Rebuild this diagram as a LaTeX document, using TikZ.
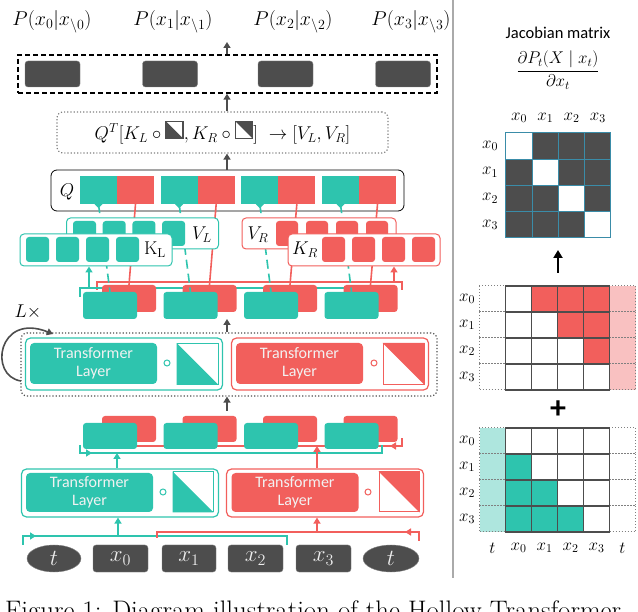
\RequirePackage{fix-cm}
\documentclass[tikz,border=0pt]{standalone}
\usepackage{fontspec}
\newfontfamily\calibri{Carlito}
\usetikzlibrary{arrows.meta,shapes.geometric}
\definecolor{hteal}{HTML}{2EC4AE}
\definecolor{hred}{HTML}{F25F5C}
\definecolor{hdark}{HTML}{4D4D4D}
\definecolor{hltteal}{HTML}{AEE6DE}
\definecolor{hltred}{HTML}{F9C1C1}
\definecolor{hgrid}{HTML}{3A8CA8}
\definecolor{hsep}{HTML}{AAAAAA}
\newcommand{\pfont}{\fontsize{20}{24}\selectfont}
\newcommand{\mfont}{\fontsize{18.5}{22}\selectfont}
\newcommand{\tfont}{\fontsize{23}{26}\selectfont}
\newcommand{\gfont}{\fontsize{17}{19}\selectfont}
\newcommand{\masklo}{\tikz[baseline=-1pt,sharp corners]{\fill[hdark] (0pt,0pt) -- (0pt,17pt) -- (17pt,0pt) -- cycle; \draw[hdark,line width=1.4pt] (0pt,0pt) rectangle (17pt,17pt);}}
\newcommand{\maskup}{\tikz[baseline=-1pt,sharp corners]{\fill[hdark] (0pt,17pt) -- (17pt,17pt) -- (17pt,0pt) -- cycle; \draw[hdark,line width=1.4pt] (0pt,0pt) rectangle (17pt,17pt);}}
\begin{document}
\begin{tikzpicture}[x=1pt,y=-1pt,
    tok/.style={rounded corners=3pt,fill=hdark,draw=gray,inner sep=0pt,minimum height=27pt,text=white!93!black,font=\tfont},
    tcell/.style={rounded corners=3pt,fill=hteal,inner sep=0pt},
    rcell/.style={rounded corners=3pt,fill=hred,inner sep=0pt},
    arr/.style={draw=hdark,line width=1.6pt,-{Triangle[length=6pt,width=7pt]}},
    tln/.style={draw=hteal,line width=1.6pt},
    rln/.style={draw=hred,line width=1.6pt},
    tarr/.style={tln,-{Triangle[length=6pt,width=7pt]}},
    rarr/.style={rln,-{Triangle[length=6pt,width=7pt]}},
    layer/.style={rounded corners=4pt,inner sep=0pt,minimum width=127pt,text=white!95!black,align=center,font=\calibri\fontsize{16}{18}\selectfont},
    grp/.style={rounded corners=5pt,line width=1.2pt,inner sep=0pt,minimum width=197pt},
    kv/.style={fill=white,line width=1pt,rounded corners=4pt,inner sep=0pt,minimum width=152pt},
    gcell/.style={minimum size=26pt,inner sep=0pt}]
  \useasboundingbox (0,0) rectangle (638,612);
  \clip (0,0) rectangle (638,612);

  \foreach \i/\x in {0/52,1/173,2/293,3/411}
    \node[font=\pfont] (p\i) at (\x,22) {$P(x_{\i}|x_{\setminus \i})$};
  \node[draw=black,line width=1.5pt,dash pattern=on 5pt off 3pt,minimum width=419pt,minimum height=38pt,inner sep=0pt] (outs) at (227.5,74) {};
  \foreach \i/\x in {0/52.5,1/170,2/285.5,3/403}
    \node[tok,minimum width=55pt,minimum height=26pt] (o\i) at (\x,74) {};
  \coordinate (ptop) at (227,42);
  \draw[arr] (outs.north -| ptop) -- (ptop);

  \node[draw=gray,dotted,line width=1.2pt,rounded corners=6pt,minimum width=331pt,minimum height=41pt,inner sep=0pt,font=\mfont] (attn) at (222.5,132.5) {$Q^T[K_L\circ\masklo, K_R\circ\maskup]\ \rightarrow[V_L,V_R]$};
  \draw[arr] (attn.north -| ptop) -- (outs.south -| ptop);

  \node[draw=black,line width=0.8pt,rounded corners=6pt,minimum width=353pt,minimum height=41pt,inner sep=0pt] (qbox) at (227.5,190.5) {};
  \node[font=\mfont] (qlab) at (67,192) {$Q$};
  \draw[arr] (qbox.north -| ptop) -- (attn.south -| ptop);
  \foreach \i in {0,...,3} {
    \pgfmathsetmacro{\qx}{98.5+80.67*\i}
    \node[fill=hteal,minimum width=37pt,minimum height=28pt,inner sep=0pt] (qt\i) at (\qx,190) {};
    \node[fill=hred,minimum width=37pt,minimum height=28pt,inner sep=0pt] (qr\i) at (\qx+37,190) {};
    \fill[hteal] (qt\i.south) ++(-4,0) -- ++(8,0) -- ++(-4,4) -- cycle;
  }

  \coordinate (ubt0) at (80,297);
  \coordinate (ubt1) at (383,297);
  \coordinate (ubr0) at (97,290);
  \coordinate (ubr1) at (402,290);
  \draw[rln] (ubr0) -- ++(0,-8) -| (ubr1);
  \draw[tln] (ubt0) -- ++(0,-9) -| (ubt1);
  \coordinate (lbt0) at (80,445);
  \coordinate (lbt1) at (382,445);
  \coordinate (lbr0) at (97,438);
  \coordinate (lbr1) at (402,438);
  \draw[rln] (lbr0) -- ++(0,8) -| (lbr1);
  \draw[rarr] (lbr1) ++(0,8) -- ++(-12,0);
  \draw[tln] (lbt0) -- ++(0,8) -| (lbt1);
  \draw[tarr] (lbt0) ++(0,8) -- ++(12,0);

  \foreach \i in {0,...,3} {
    \pgfmathsetmacro{\ux}{129+80.5*\i}
    \node[rcell,minimum width=54pt,minimum height=27pt] (ur\i) at (\ux,298.5) {};
    \node[tcell,minimum width=54pt,minimum height=27pt] (ut\i) at (\ux-19,305.5) {};
    \node[rcell,minimum width=54pt,minimum height=26pt] (lr\i) at (\ux,429) {};
    \node[tcell,minimum width=54pt,minimum height=26pt] (lt\i) at (\ux-19,436) {};
  }
  \foreach \i in {0,...,3} {
    \draw[tln,dash pattern=on 9pt off 5pt] (qt\i.south) -- (ut\i.north);
    \draw[rln] (qr\i.south) -- (ur\i.north);
  }

  \node[kv,draw=hteal,minimum height=31pt] (vl) at (142.5,233.5) {};
  \foreach \i in {0,...,3}
    \node[tcell,minimum width=23pt,minimum height=25pt] (vl\i) at (84.5+29.7*\i,233.5) {};
  \node[font=\mfont] (vllab) at (202,235) {$V_L$};
  \node[kv,draw=hred,minimum width=154pt,minimum height=31pt] (vr) at (319,233.5) {};
  \foreach \i in {0,...,3}
    \node[rcell,minimum width=22pt,minimum height=25pt] (vr\i) at (287+30*\i,233.5) {};
  \node[font=\mfont] (vrlab) at (258,235) {$V_R$};
  \node[kv,draw=hteal,minimum height=32pt] (kl) at (96,250) {};
  \foreach \i in {0,...,3}
    \node[tcell,minimum width=23pt,minimum height=25pt] (kl\i) at (37.5+30*\i,249.5) {};
  \node[font=\mfont] (kllab) at (155,250) {$\mathrm{K}_\mathrm{L}$};
  \node[kv,draw=hred,minimum height=32pt] (kr) at (364,250) {};
  \foreach \i in {0,...,3}
    \node[rcell,minimum width=23pt,minimum height=25pt] (kr\i) at (333.5+30*\i,249.5) {};
  \node[font=\mfont] (krlab) at (305,250) {$K_R$};
  \coordinate (ukt) at (89,288);
  \coordinate (ukr) at (394,282);
  \draw[tarr] (ukt) -- (kl.south -| ukt);
  \draw[rarr] (ukr) -- (kr.south -| ukr);

  \node[draw=hdark,dotted,line width=1.2pt,rounded corners=6pt,minimum width=416pt,minimum height=63pt,inner sep=0pt] (loop) at (229,364.5) {};
  \coordinate (uarr) at (227,319);
  \coordinate (larr) at (227,411);
  \draw[arr] (loop.north -| uarr) -- (uarr);
  \draw[arr] (larr) -- (loop.south -| larr);
  \coordinate (lpa) at (21,381);
  \coordinate (lpb) at (53,334);
  \draw[arr] (lpa) .. controls (-12,376) and (-2,312) .. (lpb);
  \node[font=\mfont] (lx) at (28,312) {$L\times$};

  \node[grp,draw=hteal,minimum height=52pt] (tg2) at (124,364) {};
  \node[layer,fill=hteal,minimum height=41pt] (tl2) at (93.5,363.5) {Transformer\\Layer};
  \node[circle,draw=hteal,line width=1pt,minimum size=6pt,inner sep=0pt] (ct2) at (167,363) {};
  \node[draw=hteal,line width=1pt,minimum size=41pt,inner sep=0pt] (mt2) at (197.5,364) {};
  \fill[hteal] (mt2.north west) -- (mt2.south east) -- (mt2.south west) -- cycle;
  \node[grp,draw=hred,minimum height=52pt] (rg2) at (330,364) {};
  \node[layer,fill=hred,minimum height=41pt] (tr2) at (299.5,363.5) {Transformer\\Layer};
  \node[circle,draw=hred,line width=1pt,minimum size=6pt,inner sep=0pt] (cr2) at (374,363) {};
  \node[draw=hred,line width=1pt,minimum size=41pt,inner sep=0pt] (mr2) at (403.5,364) {};
  \fill[hred] (mr2.north west) -- (mr2.north east) -- (mr2.south east) -- cycle;

  \node[grp,draw=hteal,minimum height=48pt] (tg1) at (120,493) {};
  \node[layer,fill=hteal,minimum height=39pt] (tl1) at (89.5,492.5) {Transformer\\Layer};
  \node[circle,draw=hteal,line width=1pt,minimum size=6pt,inner sep=0pt] (ct1) at (163,492) {};
  \node[draw=hteal,line width=1pt,minimum size=40pt,inner sep=0pt] (mt1) at (193,492) {};
  \fill[hteal] (mt1.north west) -- (mt1.south east) -- (mt1.south west) -- cycle;
  \node[grp,draw=hred,minimum height=48pt] (rg1) at (325,493) {};
  \node[layer,fill=hred,minimum height=39pt] (tr1) at (295,492.5) {Transformer\\Layer};
  \node[circle,draw=hred,line width=1pt,minimum size=6pt,inner sep=0pt] (cr1) at (368,492) {};
  \node[draw=hred,line width=1pt,minimum size=40pt,inner sep=0pt] (mr1) at (399,492) {};
  \fill[hred] (mr1.north west) -- (mr1.north east) -- (mr1.south east) -- cycle;
  \coordinate (lat) at (117,453);
  \coordinate (lar) at (317,446);
  \draw[tarr] (tg1.north -| lat) -- (lat);
  \draw[rarr] (rg1.north -| lar) -- (lar);

  \coordinate (bbt0) at (23,545);
  \coordinate (bbt1) at (287,545);
  \coordinate (bbr0) at (157,538);
  \coordinate (bbr1) at (419,541);
  \draw[tln] (bbt0) -- ++(0,-9) -| (bbt1);
  \draw[tarr] (bbt0) ++(0,-9) -- ++(13,0);
  \draw[rln] (bbr0) -- ++(0,-6) -| (bbr1);
  \draw[rarr] (bbr1) ++(0,-9) -- ++(-14,0);
  \coordinate (bat) at (118,536);
  \coordinate (bar) at (317,532);
  \draw[tarr] (bat) -- (tg1.south -| bat);
  \draw[rarr] (bar) -- (rg1.south -| bar);

  \node[tok,ellipse,minimum width=54pt] (tin0) at (54,558.5) {$t$};
  \node[tok,minimum width=55pt] (xin0) at (120.5,558.5) {$x_0$};
  \node[tok,minimum width=54pt] (xin1) at (189,558.5) {$x_1$};
  \node[tok,minimum width=55pt] (xin2) at (255.5,558.5) {$x_2$};
  \node[tok,minimum width=55pt] (xin3) at (323.5,558.5) {$x_3$};
  \node[tok,ellipse,minimum width=56pt] (tin1) at (391,558.5) {$t$};

  \draw[hsep,line width=1.5pt] (453,0) -- (453,578);
  \node[font=\calibri\fontsize{16.5}{18}\selectfont] (jtitle) at (558,33) {Jacobian matrix};
  \node[font=\gfont] (jfrac) at (558,70) {$\displaystyle\frac{\partial P_t(X\mid x_t)}{\partial x_t}$};
  \foreach \i in {0,...,3} \foreach \j in {0,...,3} {
    \ifnum\i=\j \def\jc{white}\else\def\jc{hdark}\fi
    \node[gcell,draw=hgrid,line width=1pt,fill=\jc,minimum size=26.25pt] (j\i\j) at (519+26.25*\j,146+26.25*\i) {};
  }
  \foreach \i in {0,...,3} {
    \node[font=\gfont] (jcl\i) at (519+26.25*\i,118) {$x_{\i}$};
    \node[font=\gfont] (jrl\i) at (490,146+26.25*\i) {$x_{\i}$};
  }
  \coordinate (jarr0) at (558,273);
  \coordinate (jarr1) at (558,250);
  \draw[-{Triangle[length=8pt,width=9pt]},line width=2.2pt] (jarr0) -- (jarr1);

  \foreach \i in {0,...,3} \foreach \j in {0,5} {
    \def\uc{white}\def\lc{white}
    \ifnum\j=5 \def\uc{hltred}\else\def\lc{hltteal}\fi
    \node[gcell,draw=gray,dotted,line width=1pt,fill=\uc] (u\i\j) at (492.5+26*\j,299+26*\i) {};
    \node[gcell,draw=gray,dotted,line width=1pt,fill=\lc] (l\i\j) at (492.5+26*\j,441+26*\i) {};
  }
  \foreach \i in {0,...,3} \foreach \j in {1,...,4} {
    \pgfmathtruncatemacro{\k}{\j-1}
    \def\uc{white}\def\lc{white}
    \ifnum\k>\i \def\uc{hred}\fi
    \ifnum\k<\i \def\lc{hteal}\fi
    \node[gcell,draw=hdark,line width=1.2pt,fill=\uc] (u\i\j) at (492.5+26*\j,299+26*\i) {};
    \node[gcell,draw=hdark,line width=1.2pt,fill=\lc] (l\i\j) at (492.5+26*\j,441+26*\i) {};
  }
  \foreach \i in {0,...,3} {
    \node[font=\gfont] (url\i) at (467,299+26*\i) {$x_{\i}$};
    \node[font=\gfont] (lrl\i) at (467,441+26*\i) {$x_{\i}$};
    \node[font=\gfont] (lcl\i) at (518.5+26*\i,548) {$x_{\i}$};
  }
  \node[font=\gfont] (lclt0) at (492.5,548) {$t$};
  \node[font=\gfont] (lclt1) at (622.5,548) {$t$};
  \node[font=\calibri\bfseries\fontsize{32}{32}\selectfont] (plus) at (558,410) {+};

  \node[anchor=base west,font=\fontsize{26.8}{30}\selectfont,inner sep=0pt] (cap) at (5,619) {Figure 1: Diagram illustration of the Hollow Transformer};
\end{tikzpicture}
\end{document}
